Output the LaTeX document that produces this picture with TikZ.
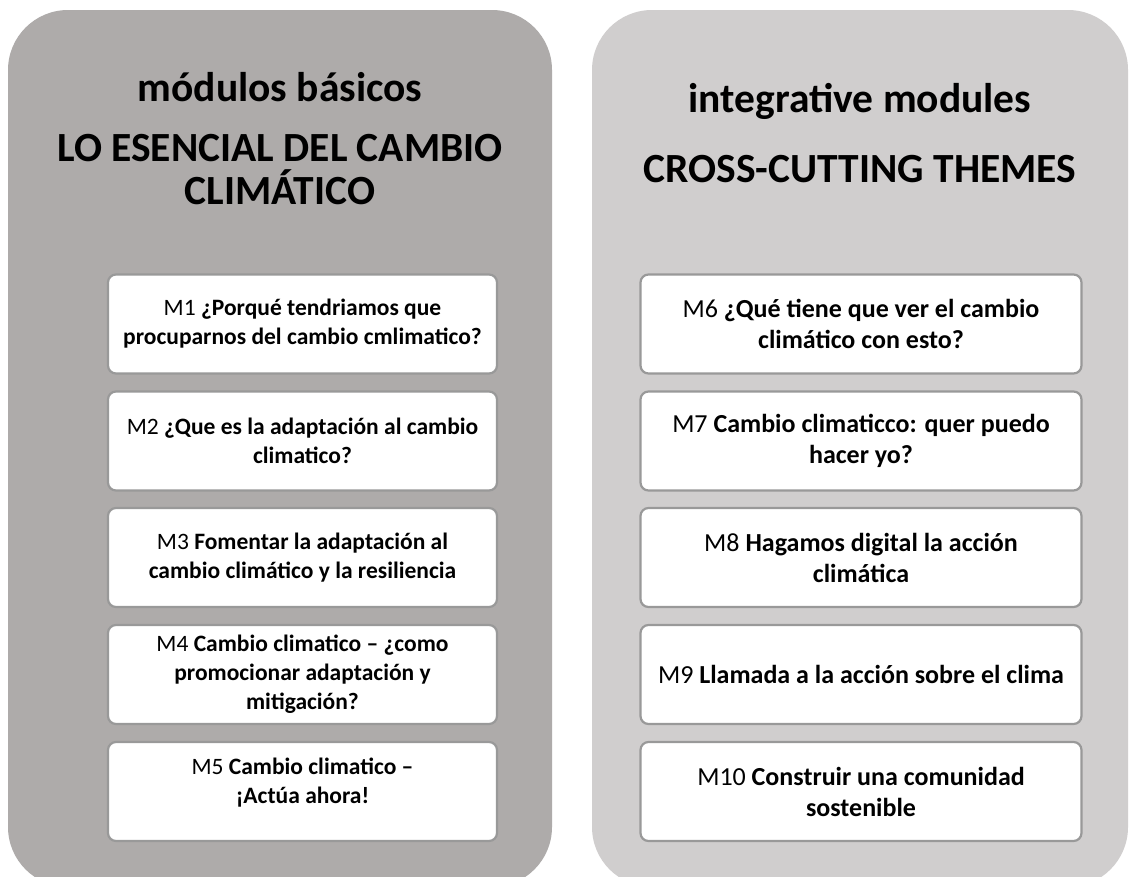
\documentclass[tikz,border=0pt]{standalone}
\usepackage{fontspec}
\setmainfont{Carlito}
\definecolor{panelA}{HTML}{AEABAA}
\definecolor{panelB}{HTML}{D0CECE}
\definecolor{boxline}{HTML}{999999}
\begin{document}
\begin{tikzpicture}[x=1pt,y=-1pt,
  panel/.style={rounded corners=60pt, minimum height=877pt, inner sep=0pt, draw=none},
  modbox/.style={draw=boxline, line width=2.2pt, fill=white, rounded corners=8pt,
    minimum height=99pt, align=center, inner sep=0pt},
  lbox/.style={modbox, minimum width=389pt, font=\fontsize{23.5}{29}\selectfont},
  rbox/.style={modbox, minimum width=441pt, font=\fontsize{26}{31}\selectfont},
  boxtext/.style={align=center, inner sep=0pt, font=\fontsize{23.5}{29}\selectfont},
  title/.style={align=center, font=\fontsize{41.5}{43}\selectfont\bfseries, inner sep=0pt}]
\clip (0,0) rectangle (1129,876);
\fill[white] (0,0) rectangle (1129,876);
\node[panel, fill=panelA, minimum width=544pt] (lp) at (280,448.5) {};
\node[panel, fill=panelB, minimum width=536pt] (rp) at (860,448.5) {};
\node[title] (lt1) at (280,87) {módulos básicos};
\node[title] (lt2) at (280,170) {LO ESENCIAL DEL CAMBIO\\CLIMÁTICO};
\node[title] (rt1) at (860,101) {integrative modules};
\node[title] (rt2) at (860,169) {CROSS-CUTTING THEMES};
% left column
\node[lbox] (m1) at (302.5,324) {M1 \textbf{¿Porqué tendriamos que}\\\textbf{procuparnos del cambio cmlimatico?}};
\node[lbox] (m2) at (302.5,441) {M2 \textbf{¿Que es la adaptación al cambio}\\\textbf{climatico?}};
\node[lbox] (m3) at (302.5,557.5) {M3 \textbf{Fomentar la adaptación al}\\\textbf{cambio climático y la resiliencia}};
\node[lbox] (m4) at (302.5,674.5) {M4 \textbf{Cambio climatico – ¿como}\\\textbf{promocionar adaptación y}\\\textbf{mitigación?}};
\node[lbox] (m5) at (302.5,791.5) {};
\node[boxtext] (m5t) at ([yshift=9pt]m5.center) {M5 \textbf{Cambio climatico –}\\\textbf{¡Actúa ahora!}};
% right column
\node[rbox] (m6) at (861,324) {M6 \textbf{¿Qué tiene que ver el cambio}\\\textbf{climático con esto?}};
\node[rbox] (m7) at (861,441) {M7 \textbf{Cambio climaticco: quer puedo}\\\textbf{hacer yo?}};
\node[rbox] (m8) at (861,557.5) {M8 \textbf{Hagamos digital la acción}\\\textbf{climática}};
\node[rbox] (m9) at (861,674.5) {M9 \textbf{Llamada a la acción sobre el clima}};
\node[rbox] (m10) at (861,791.5) {M10 \textbf{Construir una comunidad}\\\textbf{sostenible}};
\end{tikzpicture}
\end{document}
